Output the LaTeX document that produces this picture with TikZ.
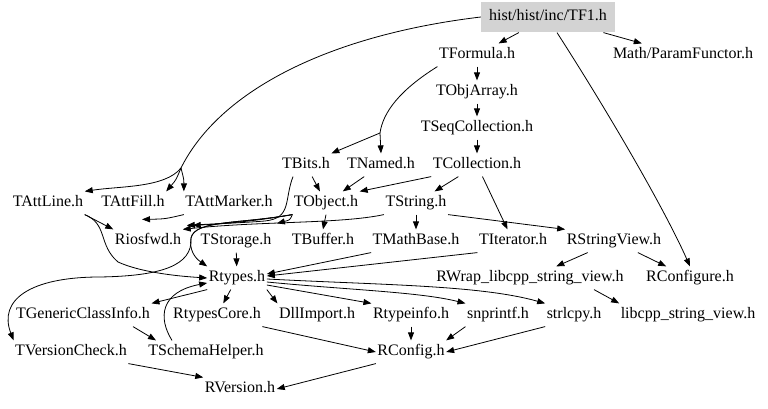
\documentclass[tikz,border=0pt]{standalone}
\usepackage{fontspec}
\setmainfont{Liberation Serif}
\usetikzlibrary{arrows.meta,calc}
\definecolor{hdrgray}{RGB}{211,211,211}

\begin{document}
\begin{tikzpicture}[x=0.75pt,y=-0.75pt,
                    every node/.style={font=\fontsize{12}{14}\selectfont,inner xsep=1pt,inner ysep=3pt,text height=8.5pt,text depth=2.5pt},
                    hdr/.style={fill=hdrgray,inner xsep=6pt,minimum height=23pt},
                    link/.style={line width=0.6pt},
                    dep/.style={link,-{Triangle[length=6pt,width=4.5pt]}}
]
\useasboundingbox (0,0) rectangle (768,409);

\node [hdr] at (548,17) (tf1) {hist/hist/inc/TF1.h};
\node at (477,55) (tformula) {TFormula.h};
\node at (683,55) (paramfunctor) {Math/ParamFunctor.h};
\node at (477,92) (tobjarray) {TObjArray.h};
\node at (477,128) (tseqcoll) {TSeqCollection.h};
\node at (306,165) (tbits) {TBits.h};
\node at (381,165) (tnamed) {TNamed.h};
\node at (477,165) (tcoll) {TCollection.h};
\node at (48,203) (tattline) {TAttLine.h};
\node at (133,203) (tattfill) {TAttFill.h};
\node at (229,203) (tattmarker) {TAttMarker.h};
\node at (326,203) (tobject) {TObject.h};
\node at (416,203) (tstring) {TString.h};
\node at (148,241) (riosfwd) {Riosfwd.h};
\node at (236,241) (tstorage) {TStorage.h};
\node at (323,241) (tbuffer) {TBuffer.h};
\node at (416,241) (tmathbase) {TMathBase.h};
\node at (513,241) (titerator) {TIterator.h};
\node at (614,241) (rstringview) {RStringView.h};
\node at (237,278) (rtypes) {Rtypes.h};
\node at (530,278) (rwrap) {RWrap\_libcpp\_string\_view.h};
\node at (690,278) (rconfigure) {RConfigure.h};
\node at (83,315) (tgenclassinfo) {TGenericClassInfo.h};
\node at (217,315) (rtypescore) {RtypesCore.h};
\node at (317,315) (dllimport) {DllImport.h};
\node at (411,315) (rtypeinfo) {Rtypeinfo.h};
\node at (498,315) (snprintf) {snprintf.h};
\node at (574,315) (strlcpy) {strlcpy.h};
\node at (688,315) (libcppsv) {libcpp\_string\_view.h};
\node at (71,352) (tversioncheck) {TVersionCheck.h};
\node at (206,352) (tschemahelper) {TSchemaHelper.h};
\node at (411,352) (rconfig) {RConfig.h};
\node at (240,389) (rversion) {RVersion.h};
\coordinate (attsplit) at (181,168);
\coordinate (fsplit) at (380,133);
%
\draw [dep] (tf1) -- (tformula);
\draw [dep] (tf1) -- (paramfunctor);
\draw [dep] ($(tf1.south)+(9,0)$) .. controls (610,115) and (665,210) .. (rconfigure.north);
\draw [link] (tf1.west) .. controls (330,35) and (220,90) .. (attsplit);
\draw [dep] (attsplit) .. controls (165,188) and (120,186) .. (tattline.north east);
\draw [dep] (attsplit) .. controls (176,180) .. (tattfill.north east);
\draw [dep] (attsplit) .. controls (184,180) .. (tattmarker.north west);

\draw [dep] (tformula) -- (tobjarray);
\draw [link] (tformula.south west) .. controls (400,90) and (383,112) .. (fsplit);
\draw [dep] (fsplit) -- (tbits.north east);
\draw [dep] (fsplit) -- (tnamed.north);
\draw [dep] (tobjarray) -- (tseqcoll);
\draw [dep] (tseqcoll) -- (tcoll);
\draw [dep] (tcoll.south west) -- (tobject.north east);
\draw [dep] (tcoll) -- (tstring);
\draw [dep] (tcoll) -- (titerator);
\draw [dep] (tbits) -- (tobject);
\draw [dep] (tnamed) -- (tobject);
%
\draw [dep] ($(tbits.south)+(-13,0)$) .. controls (284,200) and (292,218) .. (265,221) .. controls (240,223) and (210,224) .. ($(riosfwd.north east)+(4,-4)$);
\draw [dep] (tobject.south west) .. controls (250,222) and (220,224) .. ($(riosfwd.north east)+(10,-4)$);
\draw [dep] (tobject.south west) .. controls (290,220) .. ($(tstorage.north east)+(4,-6)$);
\draw [dep] (tobject.south) -- (tbuffer.north);
\draw [dep] (tobject.south west) .. controls (240,224) and (195,220) .. (191,238) .. controls (189,250) and (195,258) .. (rtypes.north west);
\draw [dep] (tobject.south west) .. controls (240,224) and (195,220) .. (191,238) .. controls (193,266) and (160,276) .. (100,277) .. controls (30,277) and (-2,300) .. (tversioncheck.north west);
\draw [dep] (tstring.south west) .. controls (340,224) and (260,221) .. (riosfwd.north east);
\draw [dep] (tstring) -- (tmathbase);
\draw [dep] (tstring.south east) -- (rstringview.north west);
%
\draw [dep] (tattline.south east) -- (riosfwd.north west);
\draw [dep] (tattline.south east) .. controls (108,224) and (98,245) .. (118,262) .. controls (140,272) and (175,276) .. (rtypes.west);
\draw [dep] (tattmarker.south west) .. controls (165,219) .. ($(riosfwd.north)+(-6,-10)$);

\draw [dep] (tstorage) -- (rtypes);
\draw [dep] (tmathbase.south west) -- ($(rtypes.east)+(0,-4)$);
\draw [dep] (titerator.south west) -- ($(rtypes.east)+(0,-2)$);
\draw [dep] (rstringview) -- (rwrap);
\draw [dep] (rstringview) -- (rconfigure);
\draw [dep] ($(rwrap.south)+(64,0)$) -- (libcppsv.north west);
%
\draw [dep] (rtypes.south west) -- (tgenclassinfo.north east);
\draw [dep] (rtypes) -- (rtypescore);
\draw [dep] (rtypes.south east) -- (dllimport.north west);
\draw [dep] ($(rtypes.east)+(0,7)$) -- (rtypeinfo.north west);
\draw [dep] ($(rtypes.east)+(0,4)$) .. controls (350,290) and (420,292) .. (snprintf.north west);
\draw [dep] ($(rtypes.east)+(0,1)$) .. controls (380,285) and (480,285) .. (strlcpy.north west);
\draw [dep] ($(tschemahelper.north)+(-34,0)$) .. controls (158,318) and (160,292) .. ($(rtypes.west)+(0,5)$);
\draw [dep] ($(tgenclassinfo.south)+(50,0)$) -- ($(tschemahelper.north)+(-50,0)$);

\draw [dep] (rtypescore.south east) -- (rconfig.west);
\draw [dep] (rtypeinfo) -- (rconfig);
\draw [dep] (snprintf.south west) -- (rconfig.north east);
\draw [dep] (strlcpy.south west) -- (rconfig.east);
\draw [dep] (tversioncheck.south east) -- (rversion.north west);
\draw [dep] (rconfig.south west) -- (rversion.east);
\end{tikzpicture}
\end{document}
